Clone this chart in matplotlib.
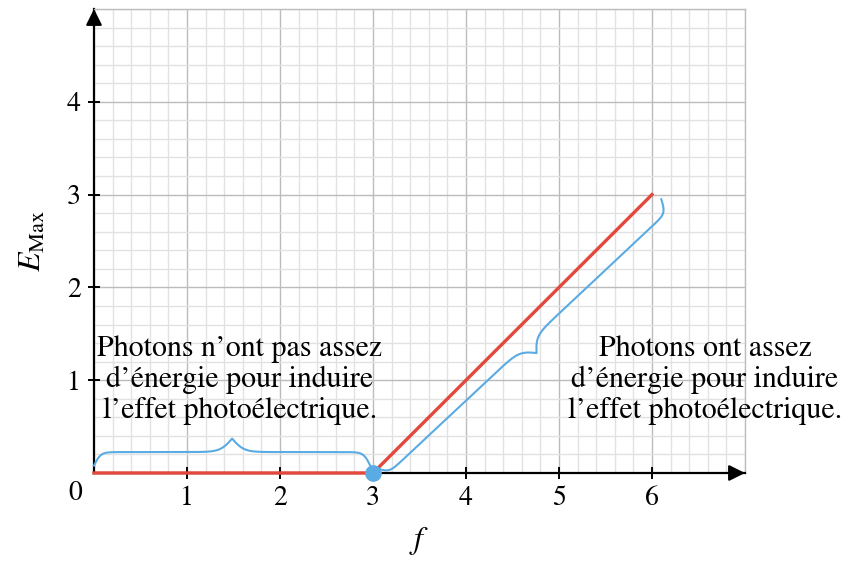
import numpy as np
import matplotlib.pyplot as plt
from matplotlib.ticker import MultipleLocator

plt.rcParams['font.family'] = ['STIXGeneral', 'DejaVu Serif']
plt.rcParams['mathtext.fontset'] = 'stix'

# energy curve: zero below the threshold frequency, then linear
freq = [0, 3, 6]
e_max = [0, 0, 3]
threshold = (3, 0)

x_ticks = [1, 2, 3, 4, 5, 6]
y_ticks = [1, 2, 3, 4]

left_note = "Photons n\u2019ont pas assez\nd\u2019\u00e9nergie pour induire\nl\u2019effet photo\u00e9lectrique."
right_note = "Photons ont assez\nd\u2019\u00e9nergie pour induire\nl\u2019effet photo\u00e9lectrique."

# brace end points (data coords)
brace_low = [(0.0, 0.08), (2.97, 0.08)]
brace_high = [(3.02, 0.06), (6.1, 2.95)]

RED = '#e2483b'
BLUE = '#5aabe3'


def draw_brace(ax, p0, p1, height, side, **kw):
    # curly brace built in pixel space, then mapped back to data
    tr = ax.transData
    a = tr.transform(p0)
    b = tr.transform(p1)
    d = b - a
    L = np.hypot(*d)
    u = d / L
    n = np.array([-u[1], u[0]]) * side
    b_end, b_mid = 0.3, 0.17
    t = np.linspace(0, L / 2, 300)
    yh = 1 / (1 + np.exp(-b_end * t)) + 1 / (1 + np.exp(-b_mid * (t - L / 2)))
    y = np.concatenate([yh, yh[::-1][1:]])
    tt = np.concatenate([t, L - t[::-1][1:]])
    y = (y - 0.5) * height
    pts = a + np.outer(tt, u) + np.outer(y, n)
    pts = tr.inverted().transform(pts)
    ax.plot(pts[:, 0], pts[:, 1], **kw)


fig = plt.figure(figsize=(8.53, 5.74), dpi=100)
ax = fig.add_axes([94 / 853, 101 / 574, 651 / 853, 464 / 574])
ax.set_xlim(0, 7)
ax.set_ylim(0, 5)

ax.xaxis.set_minor_locator(MultipleLocator(0.2))
ax.yaxis.set_minor_locator(MultipleLocator(0.2))
ax.set_xticks(x_ticks)
ax.set_yticks(y_ticks)
ax.grid(which='major', color='#bcbcbc', lw=1.0, zorder=0)
ax.grid(which='minor', color='#e2e2e2', lw=1.0, zorder=0)
ax.set_axisbelow(True)

for s in ['top', 'right']:
    ax.spines[s].set_color('#bcbcbc')
    ax.spines[s].set_linewidth(1.0)
for s in ['left', 'bottom']:
    ax.spines[s].set_color('black')
    ax.spines[s].set_linewidth(1.6)

ax.tick_params(which='major', direction='inout', length=9, width=1.4,
               labelsize=20, pad=5)
ax.tick_params(which='minor', length=0)

# arrow heads on the axes
ax.annotate('', xy=(7.0, 0), xytext=(6.9, 0),
            arrowprops=dict(arrowstyle='-|>', color='black', lw=1.6,
                            mutation_scale=24, shrinkA=0, shrinkB=0),
            annotation_clip=False)
ax.annotate('', xy=(0, 5.0), xytext=(0, 4.9),
            arrowprops=dict(arrowstyle='-|>', color='black', lw=1.6,
                            mutation_scale=24, shrinkA=0, shrinkB=0),
            annotation_clip=False)

ax.plot(freq, e_max, color=RED, lw=2.4, clip_on=False, zorder=4)
ax.plot(*threshold, 'o', color=BLUE, ms=11, clip_on=False, zorder=5)

draw_brace(ax, brace_low[0], brace_low[1], 27, 1, color=BLUE, lw=1.5,
           clip_on=False, zorder=3)
draw_brace(ax, brace_high[0], brace_high[1], 27, -1, color=BLUE, lw=1.5,
           clip_on=False, zorder=3)

ax.text(1.57, 1.0, left_note, ha='center', va='center', fontsize=21.5,
        linespacing=1.12, zorder=6)
ax.text(6.57, 1.0, right_note, ha='center', va='center', fontsize=21.5,
        linespacing=1.12, zorder=6)

ax.text(-0.2, -0.22, '0', ha='center', va='center', fontsize=20)
ax.set_xlabel('$f$', fontsize=23, labelpad=10)
ax.set_ylabel(r'$E_{\mathrm{Max}}$', fontsize=23, labelpad=14)

fig.savefig('out.png', dpi=100)
